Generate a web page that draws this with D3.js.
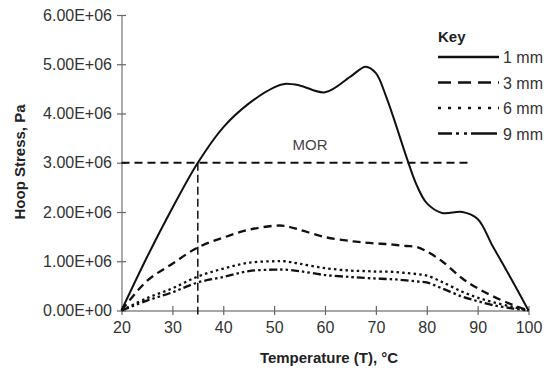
<!DOCTYPE html>
<html>
<head>
<meta charset="utf-8">
<script src="https://cdnjs.cloudflare.com/ajax/libs/d3/7.8.5/d3.min.js"></script>
<style>
  body { margin: 0; background: #fff; }
  svg { display: block; }
</style>
</head>
<body>
<div id="graph"></div>
<script>
// temperature (deg C) and hoop stress (Pa) for each wall thickness
var temps = [20, 25, 30, 35, 40, 45, 50, 52, 55, 60, 65, 68, 70, 72, 74, 76, 78, 80, 83, 87, 90, 93, 97, 100];
var stress1mm = [0, 1.08e6, 2.08e6, 3.0e6, 3.72e6, 4.2e6, 4.53e6, 4.6e6, 4.57e6, 4.43e6, 4.75e6, 4.95e6, 4.82e6, 4.35e6, 3.75e6, 3.12e6, 2.55e6, 2.18e6, 1.98e6, 2.0e6, 1.86e6, 1.3e6, 0.57e6, 0];
var stress3mm = [0, 0.6e6, 0.95e6, 1.28e6, 1.48e6, 1.64e6, 1.72e6, 1.72e6, 1.64e6, 1.49e6, 1.41e6, 1.38e6, 1.36e6, 1.35e6, 1.33e6, 1.31e6, 1.29e6, 1.2e6, 1.0e6, 0.65e6, 0.45e6, 0.29e6, 0.11e6, 0];
var stress6mm = [0, 0.25e6, 0.45e6, 0.69e6, 0.85e6, 0.97e6, 1.0e6, 1.0e6, 0.95e6, 0.86e6, 0.81e6, 0.8e6, 0.79e6, 0.79e6, 0.78e6, 0.76e6, 0.74e6, 0.71e6, 0.58e6, 0.38e6, 0.26e6, 0.17e6, 0.07e6, 0];
var stress9mm = [0, 0.2e6, 0.37e6, 0.57e6, 0.68e6, 0.8e6, 0.83e6, 0.83e6, 0.8e6, 0.72e6, 0.68e6, 0.66e6, 0.65e6, 0.64e6, 0.63e6, 0.61e6, 0.59e6, 0.57e6, 0.45e6, 0.28e6, 0.19e6, 0.11e6, 0.04e6, 0];
var seriesNames = ["1 mm", "3 mm", "6 mm", "9 mm"];

var xTicks = [20, 30, 40, 50, 60, 70, 80, 90, 100];
var yTicks = [0, 1e6, 2e6, 3e6, 4e6, 5e6, 6e6];
var yTickLabels = ["0.00E+00", "1.00E+06", "2.00E+06", "3.00E+06", "4.00E+06", "5.00E+06", "6.00E+06"];

// MOR limit and where it is crossed
var morStress = 3.0e6;
var morEndTemp = 88.5;
var morCrossTemp = 35;

var width = 546;
var height = 375;
var font = "'Liberation Sans', Arial, sans-serif";

var svg = d3.select("#graph").
append("svg").
attr("width", width).
attr("height", height);

var xScale = d3.scaleLinear().
domain([20, 100]).
range([121.5, 528.5]);

var yScale = d3.scaleLinear().
domain([0, 6e6]).
range([310.5, 15]);

var xAxis = d3.axisBottom(xScale).
tickValues(xTicks).
tickSizeOuter(0).
tickFormat(d3.format("d"));

var yAxis = d3.axisLeft(yScale).
tickValues(yTicks).
tickSizeOuter(0).
tickFormat(function (d, i) {return yTickLabels[i];});

var gx = svg.append("g").
attr("id", "x-axis").
attr("transform", "translate(0," + yScale(0) + ")").
call(xAxis);

var gy = svg.append("g").
attr("id", "y-axis").
attr("transform", "translate(" + xScale(20) + ",0)").
call(yAxis);

// ticks cross the axis line
gx.select(".domain").attr("stroke", "#888").attr("stroke-width", 1.4);
gx.selectAll(".tick line").attr("y1", -4.5).attr("y2", 4.5).attr("stroke", "#666").attr("stroke-width", 1.2);
gx.selectAll(".tick text").
attr("y", 22).
attr("dy", 0).
style("font-family", font).
style("font-size", "16px").
attr("fill", "#333");

gy.select(".domain").attr("stroke", "#888").attr("stroke-width", 1.4);
gy.selectAll(".tick line").attr("x1", -4.5).attr("x2", 4.5).attr("stroke", "#666").attr("stroke-width", 1.2);
gy.selectAll(".tick text").
attr("x", -9.5).
style("font-family", font).
style("font-size", "16px").
attr("fill", "#333");

// MOR reference lines
svg.append("line").
attr("x1", xScale(20)).
attr("x2", xScale(morEndTemp)).
attr("y1", yScale(morStress)).
attr("y2", yScale(morStress)).
attr("stroke", "#111").
attr("stroke-width", 1.8).
attr("stroke-dasharray", "8,5");

svg.append("line").
attr("x1", xScale(morCrossTemp)).
attr("x2", xScale(morCrossTemp)).
attr("y1", yScale(morStress)).
attr("y2", yScale(0) + 4).
attr("stroke", "#111").
attr("stroke-width", 1.5).
attr("stroke-dasharray", "8,4");

svg.append("text").
text("MOR").
attr("x", 310).
attr("y", 150).
style("text-anchor", "middle").
style("font-family", font).
style("font-size", "15px").
attr("fill", "#444");

var series = [stress1mm, stress3mm, stress6mm, stress9mm];
var plotDash = [null, "8,5", "2.5,3.2", "8,3,2.5,3,2.5,3"];
var legendDash = [null, "13,7", "3,7", "14,4,3,5,3,4,26"];

var line = d3.line().
x(function (d, i) {return xScale(temps[i]);}).
y(function (d) {return yScale(d);}).
curve(d3.curveCatmullRom.alpha(0.5));

svg.selectAll(".series").
data(series).
enter().
append("path").
attr("class", "series").
attr("d", line).
attr("fill", "none").
attr("stroke", "#111").
attr("stroke-width", function (d, i) {return i == 0 ? 2 : 2.3;}).
attr("stroke-dasharray", function (d, i) {return plotDash[i];});

// key
svg.append("text").
text("Key").
attr("x", 438).
attr("y", 42).
style("font-family", font).
style("font-size", "15px").
style("font-weight", "bold").
attr("fill", "#222");

var legend = svg.selectAll(".legend").
data(seriesNames).
enter().
append("g").
attr("class", "legend").
attr("transform", function (d, i) {return "translate(438," + (57 + i * 25.5) + ")";});

legend.append("line").
attr("x1", 0).
attr("x2", 61).
attr("y1", 0).
attr("y2", 0).
attr("stroke", "#111").
attr("stroke-width", 2.3).
attr("stroke-dasharray", function (d, i) {return legendDash[i];});

legend.append("text").
text(function (d) {return d;}).
attr("x", 65).
attr("y", 6).
style("font-family", font).
style("font-size", "16px").
attr("fill", "#333");

// axis titles
svg.append("text").
text("Temperature (T), °C").
attr("x", 329).
attr("y", 363).
style("text-anchor", "middle").
style("font-family", font).
style("font-size", "15px").
style("font-weight", "bold").
attr("fill", "#222");

svg.append("text").
text("Hoop Stress, Pa").
attr("transform", "translate(25,162) rotate(-90)").
style("text-anchor", "middle").
style("font-family", font).
style("font-size", "15px").
style("font-weight", "bold").
attr("fill", "#222");
</script>
</body>
</html>
